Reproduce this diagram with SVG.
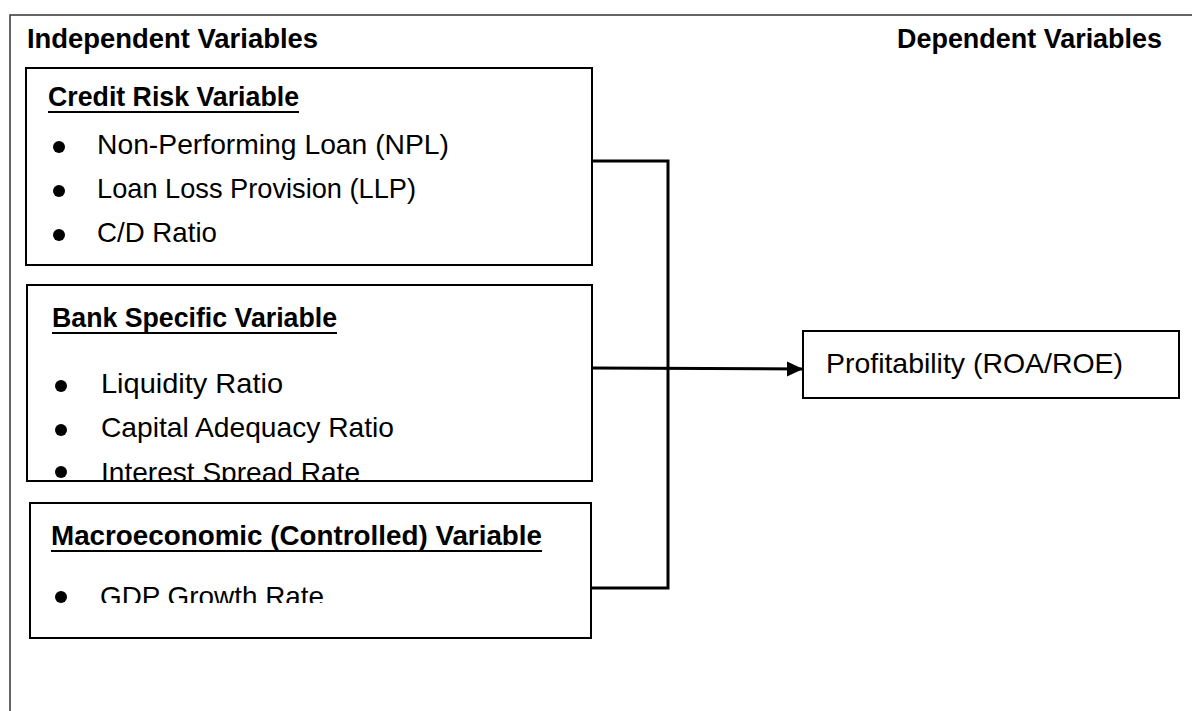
<svg xmlns="http://www.w3.org/2000/svg" width="1192" height="711" viewBox="0 0 1192 711">
<style>
  text { font-family: "Liberation Sans", Arial, sans-serif; font-size: 28px; fill: #000; }
  .h { font-weight: bold; }
  .box { fill: #fff; stroke: #000; stroke-width: 2; }
  .ul { stroke: #000; stroke-width: 2; }
  .conn { fill: none; stroke: #000; stroke-width: 3; }
  .frame { fill: none; stroke: #333; stroke-width: 1.5; }
</style>
<defs>
  <marker id="arrow" markerWidth="16" markerHeight="16" refX="16" refY="8" orient="auto" markerUnits="userSpaceOnUse" viewBox="0 0 16 16">
    <path d="M0,0.5 L16,8 L0,15.5 Z" fill="#000"/>
  </marker>
  <clipPath id="clip2"><rect x="27" y="286" width="564" height="194"/></clipPath>
  <clipPath id="clip3"><rect x="31" y="504" width="558" height="99"/></clipPath>
</defs>
<rect width="1192" height="711" fill="#fff"/>
<path class="frame" d="M10,711 L10,15 L1192,15"/>
<g id="title-independent">
  <text class="h" x="27" y="48" textLength="291" lengthAdjust="spacingAndGlyphs">Independent Variables</text>
</g>
<g id="title-dependent">
  <text class="h" x="897" y="48" textLength="265" lengthAdjust="spacingAndGlyphs">Dependent Variables</text>
</g>
<g id="credit-risk">
  <rect class="box" x="26" y="68" width="566" height="197"/>
  <text class="h" x="48" y="106" textLength="251" lengthAdjust="spacingAndGlyphs">Credit Risk Variable</text>
  <line class="ul" x1="48" y1="112" x2="299" y2="112"/>
  <circle cx="59" cy="147" r="6"/>
  <text x="97" y="154" textLength="352" lengthAdjust="spacingAndGlyphs">Non-Performing Loan (NPL)</text>
  <circle cx="59" cy="191" r="6"/>
  <text x="97" y="198" textLength="319" lengthAdjust="spacingAndGlyphs">Loan Loss Provision (LLP)</text>
  <circle cx="59" cy="235" r="6"/>
  <text x="97" y="242" textLength="120" lengthAdjust="spacingAndGlyphs">C/D Ratio</text>
</g>
<g id="bank-specific">
  <rect class="box" x="27" y="285" width="565" height="196"/>
  <text class="h" x="52" y="327" textLength="285" lengthAdjust="spacingAndGlyphs">Bank Specific Variable</text>
  <line class="ul" x1="52" y1="333" x2="337" y2="333"/>
  <circle cx="61" cy="386" r="6"/>
  <text x="101" y="393" textLength="182" lengthAdjust="spacingAndGlyphs">Liquidity Ratio</text>
  <circle cx="61" cy="430" r="6"/>
  <text x="101" y="437" textLength="293" lengthAdjust="spacingAndGlyphs">Capital Adequacy Ratio</text>
  <g clip-path="url(#clip2)">
    <circle cx="61" cy="472" r="6"/>
    <text x="101" y="482" textLength="259" lengthAdjust="spacingAndGlyphs">Interest Spread Rate</text>
  </g>
</g>
<g id="macroeconomic">
  <rect class="box" x="30" y="503" width="561" height="135"/>
  <text class="h" x="51" y="545" textLength="491" lengthAdjust="spacingAndGlyphs">Macroeconomic (Controlled) Variable</text>
  <line class="ul" x1="51" y1="551" x2="542" y2="551"/>
  <g clip-path="url(#clip3)">
    <circle cx="61" cy="597" r="6"/>
    <text x="100" y="606" textLength="224" lengthAdjust="spacingAndGlyphs">GDP Growth Rate</text>
  </g>
</g>
<g id="profitability">
  <rect class="box" x="803" y="331" width="376" height="67"/>
  <text x="826" y="373" textLength="297" lengthAdjust="spacingAndGlyphs">Profitability (ROA/ROE)</text>
</g>
<g id="connectors">
  <polyline class="conn" points="592,161 668,161 668,588 591,588"/>
  <line class="conn" x1="592" y1="368" x2="803" y2="369" marker-end="url(#arrow)"/>
</g>
</svg>
